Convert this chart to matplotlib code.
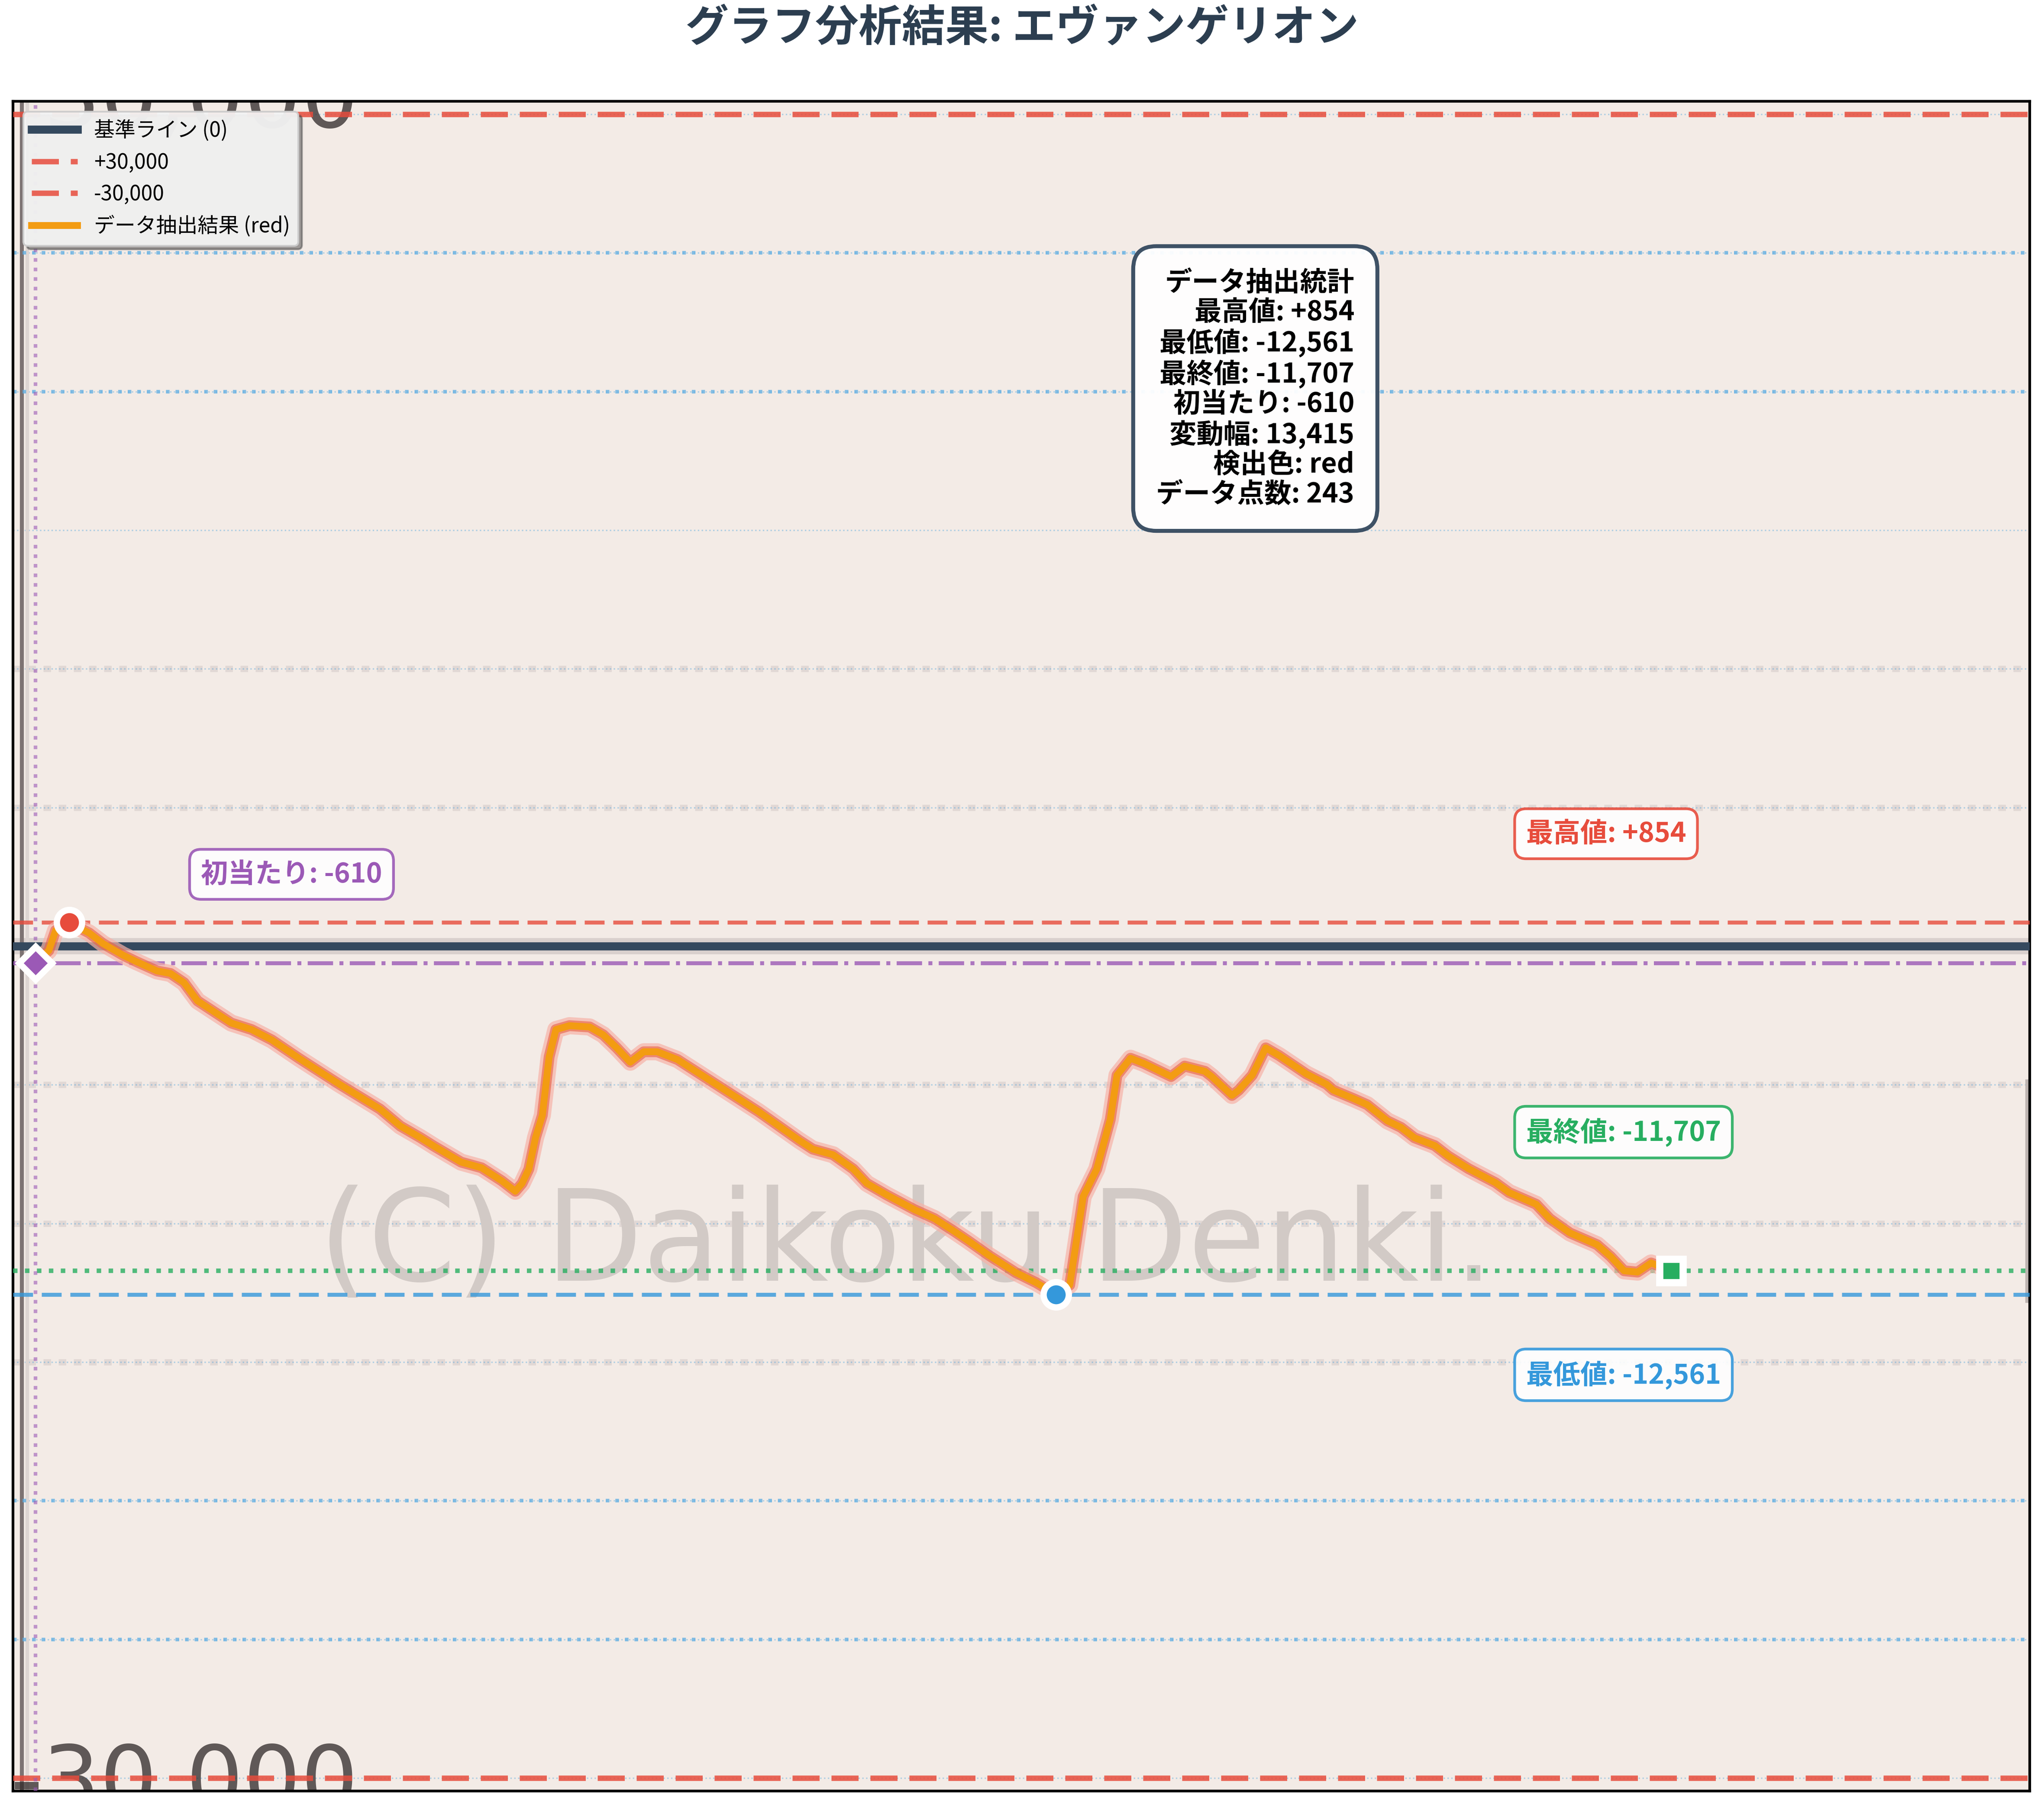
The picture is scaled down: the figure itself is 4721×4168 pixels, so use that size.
import matplotlib.pyplot as plt
import numpy as np

plt.rcParams['font.family'] = ['Noto Sans CJK JP', 'DejaVu Sans']

# 抽出データ (インデックス, 差枚)
idx = [0, 2, 3, 5, 8, 10, 13, 15, 18, 20, 22, 24, 29, 32, 35, 39, 45, 51, 54, 57,
       59, 63, 66, 69, 71, 72, 73, 74, 75, 76, 77, 79, 82, 84, 86, 88, 90, 92, 95, 101,
       107, 110, 113, 115, 118, 121, 123, 126, 130, 133, 136, 138, 141, 145, 148, 151, 153, 155, 157, 159,
       160, 162, 164, 168, 170, 173, 174, 177, 178, 180, 182, 184, 186, 188, 191, 192,
       195, 197, 200, 202, 204, 207, 209, 212, 216, 218, 222, 224, 227, 231, 233, 235,
       237, 239, 242]
vals = [-610, -160, 564, 854, 470, 94, -329, -564, -893, -987, -1317, -1975, -2774, -3009, -3385, -4044, -4984, -5877, -6489, -6912,
        -7218, -7791, -7993, -8464, -8840, -8558, -8040, -6900, -6100, -3997, -3009, -2868, -2915, -3197, -3668, -4185, -3809, -3809, -4091, -5031,
        -5972, -6489, -7006, -7321, -7523, -8040, -8558, -8981, -9498, -9827, -10297, -10627, -11144, -11769, -12131, -12561, -12225, -9028, -8040, -6254,
        -4655, -4044, -4232, -4702, -4326, -4514, -4702, -5384, -5196, -4655, -3668, -3950, -4279, -4608, -4984, -5196,
        -5501, -5718, -6301, -6536, -6912, -7194, -7570, -8026, -8534, -8887, -9310, -9827, -10344, -10767, -11191, -11708,
        -11755, -11426, -11707]

first_hit = -610
first_idx = 0
max_val, max_idx = 854, 5
min_val, min_idx = -12561, 151
final_val, final_idx = -11707, 242
n_points = 243
swing = max_val - min_val
limit_lines = [30000, -30000]
sub_lines = [25000, 20000, -20000, -25000]
bg_grid = [10000, 5000, -5000, -10000, -15000]

long_dash = (0, (5, 2.2))

fig = plt.figure(figsize=(4721 / 300, 4168 / 300), dpi=300)
ax = fig.add_axes([30 / 4721, 30 / 4168, 4658 / 4721, 3904 / 4168])
ax.set_facecolor('#f3ebe6')
ax.set_xlim(-3.3, 295)
ax.set_ylim(-30470, 30470)

# 背景画像っぽい要素
for y in bg_grid:
    ax.axhline(y, color='#d3cac7', lw=3.5, ls=(0, (1.2, 1.2)), alpha=0.55, zorder=0.5)
ax.axhline(0, color='#d9d0cd', lw=9, zorder=0.6)
ax.axvline(-2.0, color='#7d7373', lw=2.2, zorder=0.6)
ax.axvline(-1.2, color='#ddd5d2', lw=2.0, zorder=0.6)
ax.axvline(294.6, ymin=0.29, ymax=0.42, color='#bdb4b1', lw=2.0, zorder=0.6)
ax.text(128.8, -10815, '(C) Daikoku Denki.', fontsize=70, color='#d2cac6', family='DejaVu Sans',
        ha='center', va='center', zorder=0.7)
ax.text(47.8, 29530, '30,000', fontsize=50, color='#2e2727', alpha=0.75, family='DejaVu Sans',
        ha='right', va='baseline', zorder=0.7, clip_on=True)
ax.text(47.8, -31174, '-30,000', fontsize=50, color='#2e2727', alpha=0.75, family='DejaVu Sans',
        ha='right', va='baseline', zorder=0.7, clip_on=True)

# グリッド
ax.set_yticks(np.arange(-30000, 30001, 5000))
ax.set_xticks([])
ax.grid(axis='y', color='#3498db', ls=':', lw=0.8, alpha=0.35, zorder=1)
ax.tick_params(left=False, bottom=False, labelleft=False, labelbottom=False)
ax.set_axisbelow(True)
for s in ax.spines.values():
    s.set_linewidth(1.5)
    s.set_color('black')

for y in sub_lines:
    ax.axhline(y, color='#5dade2', ls=':', lw=2, alpha=0.75, zorder=2)

# 基準線
ax.axhline(0, color='#34495e', lw=4.5, zorder=3, label='基準ライン (0)')
ax.axhline(limit_lines[0], color='#e74c3c', ls=long_dash, lw=3, alpha=0.85, zorder=3, label='+30,000')
ax.axhline(limit_lines[1], color='#e74c3c', ls=long_dash, lw=3, alpha=0.85, zorder=3, label='-30,000')
ax.axhline(max_val, color='#e74c3c', ls=long_dash, lw=2.2, alpha=0.8, zorder=3)
ax.axhline(min_val, color='#3498db', ls=long_dash, lw=2.2, alpha=0.8, zorder=3)
ax.axhline(final_val, color='#27ae60', ls=':', lw=2.5, alpha=0.8, zorder=3)
ax.axhline(first_hit, color='#9b59b6', ls='-.', lw=2.2, alpha=0.8, zorder=3)
ax.axvline(first_idx, color='#9b59b6', ls=':', lw=2, alpha=0.6, zorder=3)

# データ線
ax.plot(idx, vals, color='#f7b3a8', lw=9.5, alpha=0.7, zorder=3.5, solid_joinstyle='round')
ax.plot(idx, vals, color='#e8603f', lw=6, alpha=0.6, zorder=3.6, solid_joinstyle='round')
ax.plot(idx, vals, color='#f39c12', lw=3.8, zorder=4, label='データ抽出結果 (red)',
        solid_joinstyle='round')

# マーカー
ax.plot(max_idx, max_val, 'o', color='#e74c3c', ms=14, mec='white', mew=3.5, zorder=5)
ax.plot(min_idx, min_val, 'o', color='#3498db', ms=14, mec='white', mew=3.5, zorder=5)
ax.plot(final_idx, final_val, 's', color='#27ae60', ms=13, mec='white', mew=4, zorder=5)
ax.plot(first_idx, first_hit, 'D', color='#9b59b6', ms=13, mec='white', mew=3.5, zorder=5)

# ラベル
def label(x, y, s, c):
    ax.text(x, y, s, color=c, fontsize=15, fontweight='bold', ha='left', va='center', zorder=6,
            bbox=dict(boxstyle='round,pad=0.42', fc='white', ec=c, lw=1.5, alpha=0.9))

label(220.5, max_val + 3200, f'最高値: {max_val:+,}', '#e74c3c')
label(220.5, min_val - 2900, f'最低値: {min_val:,}', '#3498db')
label(220.5, final_val + 5000, f'最終値: {final_val:,}', '#27ae60')
label(24.5, first_hit + 3200, f'初当たり: {first_hit:,}', '#9b59b6')

stats = (f'データ抽出統計\n最高値: {max_val:+,}\n最低値: {min_val:,}\n最終値: {final_val:,}\n'
         f'初当たり: {first_hit:,}\n変動幅: {swing:,}\n検出色: red\nデータ点数: {n_points}')
ax.text(0.616, 0.83, stats, transform=ax.transAxes, fontsize=15, fontweight='bold',
        ha='center', va='center', multialignment='right', linespacing=1.1, zorder=6,
        bbox=dict(boxstyle='round,pad=0.85', fc='white', ec='#34495e', lw=2.2, alpha=0.95))

ax.legend(loc='upper left', fontsize=11.5, fancybox=True, shadow=True, framealpha=0.95,
          facecolor='#f4f4f4', edgecolor='#cccccc', handlelength=2.2)

fig.text(0.5, 1 - 66 / 4168, 'グラフ分析結果: エヴァンゲリオン', fontsize=24, fontweight='bold',
         color='#2c3e50', ha='center', va='center')

fig.savefig('out.png', dpi=300, facecolor='white')
